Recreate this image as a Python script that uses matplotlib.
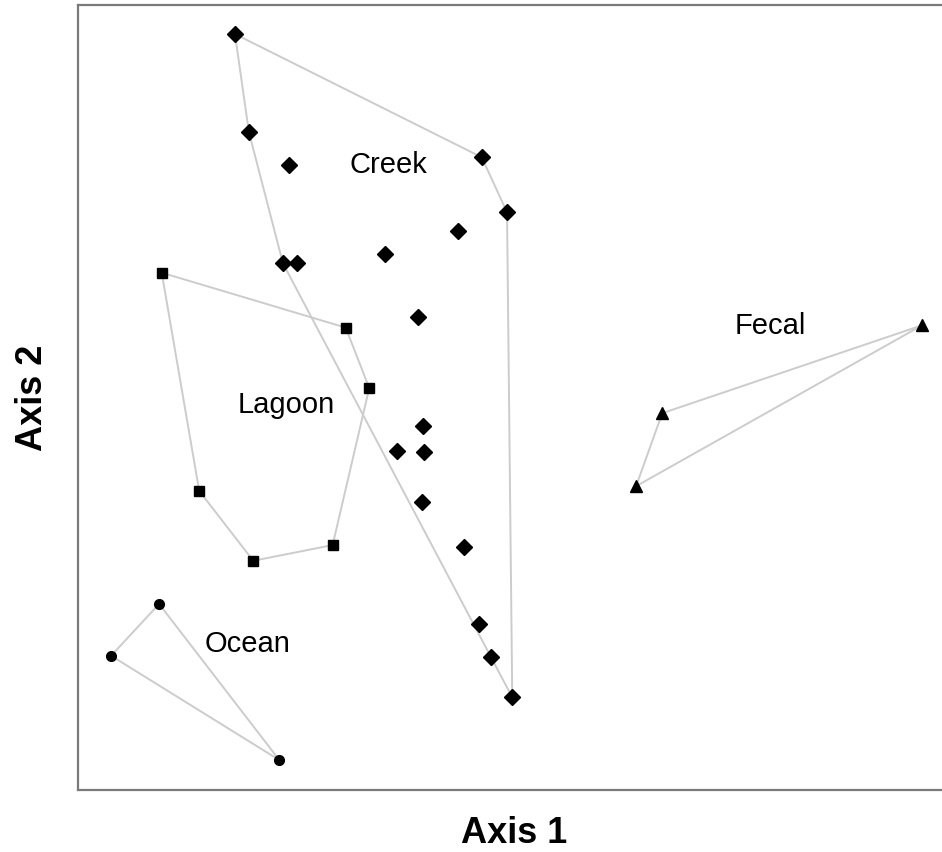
import numpy as np
import matplotlib
matplotlib.use("Agg")
import matplotlib.pyplot as plt

plt.rcParams['font.family'] = ['Liberation Sans', 'DejaVu Sans']

# ordination scores per habitat (axis 1, axis 2)
creek_x = [18.0, 19.6, 24.2, 23.5, 25.1, 35.2, 43.6, 46.3, 49.2, 39.0,
           39.6, 36.6, 39.7, 39.4, 44.3, 46.0, 47.4, 49.8]
creek_y = [96.3, 83.8, 79.6, 67.1, 67.1, 68.3, 71.2, 80.6, 73.6, 60.3,
           46.4, 43.2, 43.1, 36.7, 31.0, 21.1, 16.9, 11.8]
lagoon_x = [9.6, 30.7, 33.4, 29.2, 20.1, 13.9]
lagoon_y = [65.9, 58.9, 51.2, 31.2, 29.2, 38.1]
ocean_x = [9.3, 3.8, 23.1]
ocean_y = [23.7, 17.1, 3.8]
fecal_x = [96.8, 67.0, 64.0]
fecal_y = [59.2, 48.0, 38.7]


def convex_hull(xs, ys):
    """Monotone chain hull, returned closed for plotting."""
    pts = sorted(set(zip(xs, ys)))

    def cross(o, a, b):
        return (a[0] - o[0]) * (b[1] - o[1]) - (a[1] - o[1]) * (b[0] - o[0])

    lower, upper = [], []
    for p in pts:
        while len(lower) >= 2 and cross(lower[-2], lower[-1], p) <= 0:
            lower.pop()
        lower.append(p)
    for p in reversed(pts):
        while len(upper) >= 2 and cross(upper[-2], upper[-1], p) <= 0:
            upper.pop()
        upper.append(p)
    hull = lower[:-1] + upper[:-1]
    hull.append(hull[0])
    return np.array(hull)


fig = plt.figure(figsize=(9.42, 8.52), dpi=100)
ax = fig.add_axes([78 / 942, 62 / 852, 872 / 942, 785 / 852])

groups = [
    (creek_x, creek_y, 'D', 8),
    (lagoon_x, lagoon_y, 's', 6.5),
    (ocean_x, ocean_y, 'o', 7),
    (fecal_x, fecal_y, '^', 9),
]
for gx, gy, mk, ms in groups:
    h = convex_hull(gx, gy)
    ax.plot(h[:, 0], h[:, 1], color='#cccccc', lw=1.4, zorder=1)
    ax.plot(gx, gy, ls='none', marker=mk, ms=ms, color='black', zorder=3)

ax.text(35.6, 79.6, 'Creek', fontsize=21, ha='center', va='center')
ax.text(23.9, 49.0, 'Lagoon', fontsize=21, ha='center', va='center')
ax.text(19.5, 18.6, 'Ocean', fontsize=21, ha='center', va='center')
ax.text(79.4, 59.1, 'Fecal', fontsize=21, ha='center', va='center')

ax.set_xlim(0, 100)
ax.set_ylim(0, 100)
ax.set_xticks([])
ax.set_yticks([])
for sp in ax.spines.values():
    sp.set_color('#7a7a7a')
    sp.set_linewidth(1.6)

ax.set_xlabel('Axis 1', fontsize=26, fontweight='bold', labelpad=19)
ax.set_ylabel('Axis 2', fontsize=26, fontweight='bold', labelpad=20)

fig.savefig('out.png', dpi=100)
